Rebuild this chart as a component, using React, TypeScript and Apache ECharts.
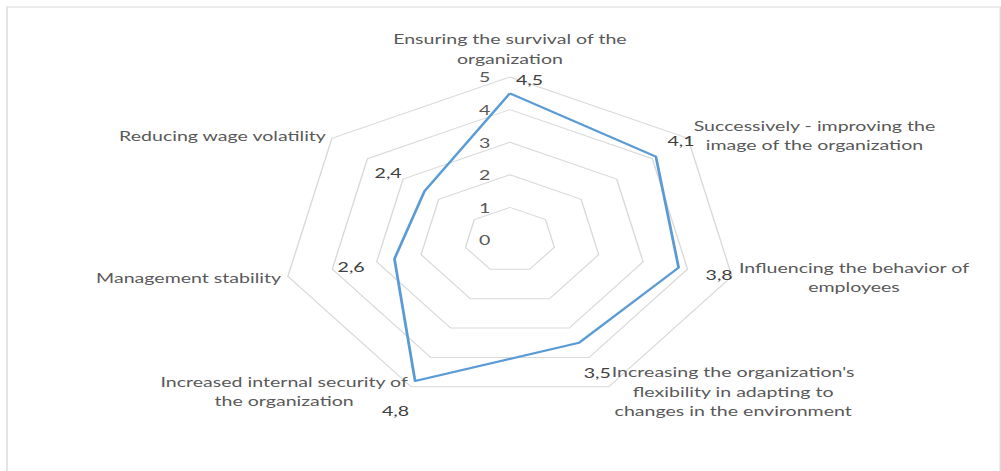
import React, { useEffect, useRef } from "react";
import * as echarts from "echarts";

// Categories clockwise from the top, as in the reference
const categories = [
  "Ensuring the survival of the\norganization",
  "Successively - improving the\nimage of the organization",
  "Influencing the behavior of\nemployees",
  "Increasing the organization's\nflexibility in adapting to\nchanges in the environment",
  "Increased internal security of\nthe organization",
  "Management stability",
  "Reducing wage volatility",
];
const values = [4.5, 4.1, 3.8, 3.5, 4.8, 2.6, 2.4];
const axisMin = 0;
const axisMax = 5;
const axisSplits = 5;

// label offsets (style), per category in chart space
const labelOffsets: number[][] = [
  [14, -14],
  [18, -16],
  [29, 7],
  [13, 30],
  [-14, 30],
  [-31, 8],
  [-26, -19],
];

const STRETCH = 1.397;
const FULL_W = 1001;
const FULL_H = 471;
const FONT = "Lato";

export default function App() {
  const ref = useRef<HTMLDivElement>(null);
  useEffect(() => {
    if (!ref.current) return;
    const chart = echarts.init(ref.current, null, { renderer: "svg" });
    const n = categories.length;
    // ECharts radar runs counter-clockwise; reorder so it reads clockwise
    const ecOrder = categories.map((_, j) => (n - j) % n);
    const jOf = (k: number) => ecOrder.indexOf(k);
    const ecValues = ecOrder.map((k) => values[k]);
    const indicator = ecOrder.map((k, j) => {
      const ind: any = { name: categories[k], min: axisMin, max: axisMax };
      if (j === 0) {
        ind.axisLabel = { show: true };
        ind.nameGap = 9;
      }
      return ind;
    });
    const fmt = (v: any) =>
      typeof v === "number" && !isNaN(v) ? String(v).replace(".", ",") : "";

    const helperItems = categories.map((_, k) => ({
      value: ecValues,
      symbol: "circle",
      symbolSize: 1,
      itemStyle: { color: "rgba(0,0,0,0)", borderWidth: 0 },
      lineStyle: { opacity: 0, width: 0 },
      label: {
        show: true,
        position: "inside",
        offset: labelOffsets[k],
        color: "#404040",
        fontFamily: FONT,
        fontSize: 14,
        formatter: (p: any) => (p.dimensionIndex === jOf(k) ? fmt(p.value) : ""),
      },
    }));

    chart.setOption({
      animation: false,
      backgroundColor: "#ffffff",
      graphic: [
        {
          type: "rect",
          silent: true,
          z: -1,
          shape: { x: 5, y: 7, width: 711, height: 480 },
          style: { fill: "none", stroke: "#d9d9d9", lineWidth: 1 },
        },
      ],
      radar: {
        center: [365, 240],
        radius: 163,
        startAngle: 90,
        shape: "polygon",
        splitNumber: axisSplits,
        indicator,
        axisNameGap: 5,
        axisName: {
          show: true,
          color: "#595959",
          fontFamily: FONT,
          fontSize: 14,
          formatter: (name: string) =>
            name
              .split("\n")
              .map((l) => `{c|${l}}`)
              .join("\n"),
          rich: {
            c: {
              align: "center",
              fontFamily: FONT,
              fontSize: 14,
              color: "#595959",
              lineHeight: 19.5,
            },
          },
        },
        splitLine: { lineStyle: { color: "#d9d9d9", width: 1 } },
        splitArea: { show: false },
        axisLine: { show: false },
        axisTick: { show: false },
        axisLabel: {
          show: false,
          color: "#595959",
          fontFamily: FONT,
          fontSize: 14,
          margin: 14,
        },
      },
      series: [
        {
          type: "radar",
          data: [
            {
              value: ecValues,
              symbol: "none",
              lineStyle: { color: "#5B9BD5", width: 2 },
              label: { show: false },
            },
            ...helperItems,
          ],
        },
      ],
    });
    return () => chart.dispose();
  }, []);

  return (
    <div
      style={{
        position: "fixed",
        left: 0,
        top: 0,
        width: FULL_W,
        height: FULL_H,
        overflow: "hidden",
        background: "#fff",
      }}
    >
      <div
        ref={ref}
        style={{
          width: Math.round(FULL_W / STRETCH),
          height: FULL_H,
          transform: `scaleX(${STRETCH})`,
          transformOrigin: "0 0",
        }}
      />
    </div>
  );
}
